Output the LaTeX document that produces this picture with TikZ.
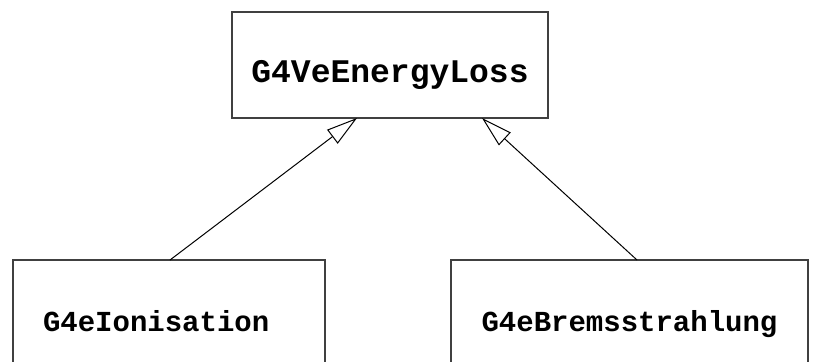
\documentclass[tikz,border=0pt]{standalone}
\usepackage{fontspec}
\setmonofont{Liberation Mono}
\usepackage{xcolor}
\colorlet{BOXCOLOR}{black!75}
\colorlet{LINKCOLOR}{black}
\usetikzlibrary{arrows.meta,positioning}
\tikzset{
  class-style/.style = {
    rectangle, draw=BOXCOLOR, line width=0.6pt,
    inner sep=0pt, outer sep=0pt,
    text depth=0pt
  },
  base-style/.style = {
    class-style,
    minimum width=158pt, minimum height=53pt,
    text height=17pt,
    font=\fontsize{16.5}{18}\selectfont
  },
  derived-style/.style = {
    class-style,
    minimum width=#1, minimum height=70pt,
    text height=1pt,
    font=\fontsize{14.5}{16}\selectfont
  },
  inherit-style/.style = {
    draw=LINKCOLOR, line width=0.5pt,
    -{Triangle[open, length=15.5pt, width=8.7pt]}
  }
}
\newcommand\className[1]{\ttfamily\bfseries #1}
\begin{document}
\begin{tikzpicture}[x=0.5pt, y=-0.5pt]
  \useasboundingbox (0,0) rectangle (817,361);
  \clip (0,0) rectangle (817,361);

  \node [base-style] (eloss) at (390,65) {\className{G4VeEnergyLoss}};
  \node [derived-style=156pt, text width=126pt, inner xsep=15pt, align=left]
        (ioni) at (169,330) {\className{G4eIonisation}};
  \node [derived-style=178.5pt] (brems) at (629.5,330) {\className{G4eBremsstrahlung}};

  % generalisation links
  \draw [inherit-style] ([xshift=0.5pt]ioni.north) -- ([xshift=-16.5pt]eloss.south);
  \draw [inherit-style] ([xshift=3.75pt]brems.north) -- ([xshift=46pt]eloss.south);
\end{tikzpicture}
\end{document}
